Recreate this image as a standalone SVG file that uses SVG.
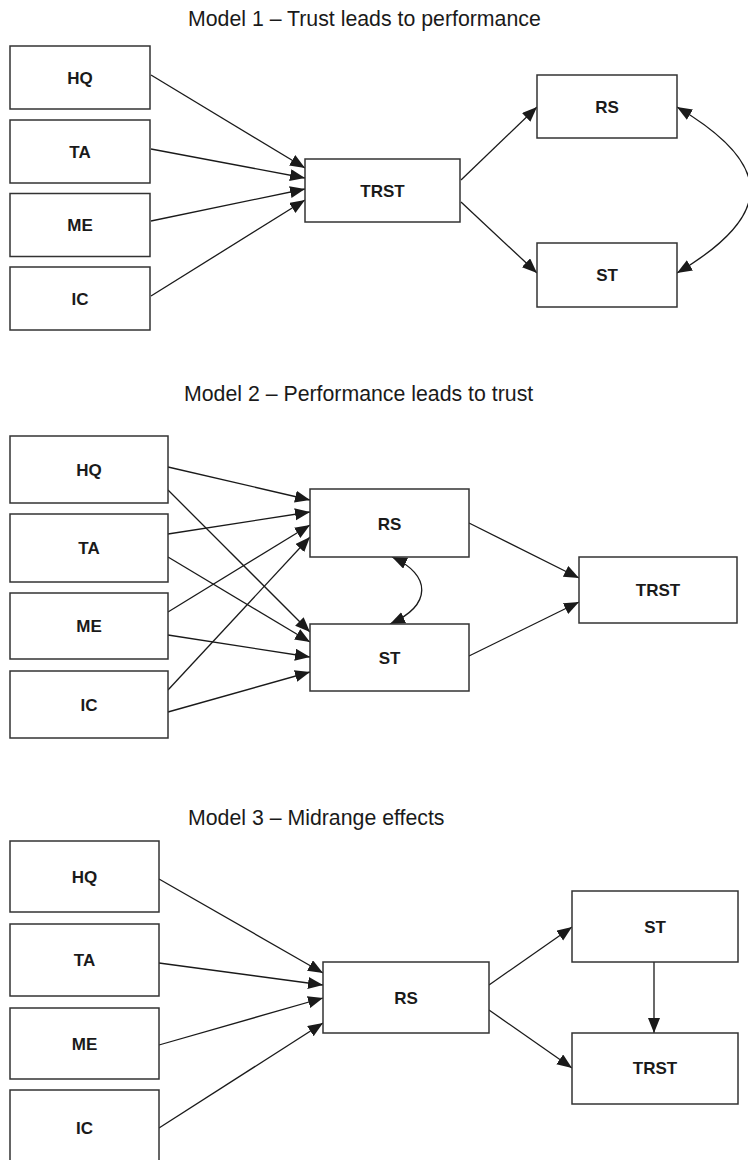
<svg xmlns="http://www.w3.org/2000/svg" width="748" height="1160" viewBox="0 0 748 1160">
<style>
.box{fill:#fff;stroke:#333;stroke-width:1.5}
.lbl{font-family:"Liberation Sans",Arial,sans-serif;font-weight:bold;font-size:17px;fill:#1a1a1a;text-anchor:middle}
.title{font-family:"Liberation Sans",Arial,sans-serif;font-size:21.3px;fill:#1a1a1a}
.c{fill:none;stroke:#1a1a1a;stroke-width:1.3}
</style>
<defs>
<marker id="ah" markerUnits="userSpaceOnUse" markerWidth="16" markerHeight="13" refX="15" refY="6" orient="auto-start-reverse">
<path d="M0,0 L15,6 L0,12 z" fill="#1a1a1a"/>
</marker>
</defs>
<rect width="748" height="1160" fill="#fff"/>

<text class="title" x="188" y="26">Model 1 – Trust leads to performance</text>
<text class="title" x="184" y="401">Model 2 – Performance leads to trust</text>
<text class="title" x="188" y="825">Model 3 – Midrange effects</text>

<g id="connectors">
<!-- Model 1 -->
<line class="c" x1="151" y1="75" x2="305" y2="168" marker-end="url(#ah)"/>
<line class="c" x1="151" y1="149" x2="305" y2="178" marker-end="url(#ah)"/>
<line class="c" x1="151" y1="221" x2="305" y2="189" marker-end="url(#ah)"/>
<line class="c" x1="151" y1="296" x2="305" y2="200" marker-end="url(#ah)"/>
<line class="c" x1="461" y1="180" x2="537" y2="107" marker-end="url(#ah)"/>
<line class="c" x1="461" y1="202" x2="537" y2="273" marker-end="url(#ah)"/>
<path class="c" d="M677,107 C775,165 775,215 677,273" marker-start="url(#ah)" marker-end="url(#ah)"/>
<!-- Model 2 -->
<line class="c" x1="168" y1="467" x2="310" y2="500" marker-end="url(#ah)"/>
<line class="c" x1="168" y1="490" x2="310" y2="632" marker-end="url(#ah)"/>
<line class="c" x1="168" y1="534" x2="310" y2="512" marker-end="url(#ah)"/>
<line class="c" x1="168" y1="557" x2="310" y2="642" marker-end="url(#ah)"/>
<line class="c" x1="168" y1="612" x2="310" y2="525" marker-end="url(#ah)"/>
<line class="c" x1="168" y1="635" x2="310" y2="657" marker-end="url(#ah)"/>
<line class="c" x1="168" y1="690" x2="310" y2="537" marker-end="url(#ah)"/>
<line class="c" x1="168" y1="712" x2="310" y2="672" marker-end="url(#ah)"/>
<line class="c" x1="469" y1="523" x2="579" y2="578" marker-end="url(#ah)"/>
<line class="c" x1="469" y1="656" x2="579" y2="602" marker-end="url(#ah)"/>
<path class="c" d="M392,557 C432,575 432,605 390,624" marker-start="url(#ah)" marker-end="url(#ah)"/>
<!-- Model 3 -->
<line class="c" x1="159" y1="879" x2="323" y2="973" marker-end="url(#ah)"/>
<line class="c" x1="159" y1="963" x2="323" y2="985" marker-end="url(#ah)"/>
<line class="c" x1="159" y1="1045" x2="323" y2="998" marker-end="url(#ah)"/>
<line class="c" x1="159" y1="1128" x2="323" y2="1023" marker-end="url(#ah)"/>
<line class="c" x1="489" y1="985" x2="572" y2="927" marker-end="url(#ah)"/>
<line class="c" x1="489" y1="1010" x2="572" y2="1068" marker-end="url(#ah)"/>
<line class="c" x1="654" y1="962" x2="654" y2="1033" marker-end="url(#ah)"/>
</g>

<!-- Model 1 nodes -->
<g id="m1-hq"><rect class="box" x="10" y="46" width="140" height="63"/><text class="lbl" x="80" y="83.5">HQ</text></g>
<g id="m1-ta"><rect class="box" x="10" y="120" width="140" height="63"/><text class="lbl" x="80" y="157.5">TA</text></g>
<g id="m1-me"><rect class="box" x="10" y="193.5" width="140" height="63"/><text class="lbl" x="80" y="231">ME</text></g>
<g id="m1-ic"><rect class="box" x="10" y="267" width="140" height="63"/><text class="lbl" x="80" y="304.5">IC</text></g>
<g id="m1-trst"><rect class="box" x="305" y="159" width="155" height="63"/><text class="lbl" x="382.5" y="197">TRST</text></g>
<g id="m1-rs"><rect class="box" x="537" y="75" width="140" height="63"/><text class="lbl" x="607" y="112.5">RS</text></g>
<g id="m1-st"><rect class="box" x="537" y="243" width="140" height="64"/><text class="lbl" x="607" y="281">ST</text></g>

<!-- Model 2 nodes -->
<g id="m2-hq"><rect class="box" x="10" y="436" width="158" height="67"/><text class="lbl" x="89" y="476">HQ</text></g>
<g id="m2-ta"><rect class="box" x="10" y="514" width="158" height="68"/><text class="lbl" x="89" y="554">TA</text></g>
<g id="m2-me"><rect class="box" x="10" y="593" width="158" height="66"/><text class="lbl" x="89" y="632">ME</text></g>
<g id="m2-ic"><rect class="box" x="10" y="671" width="158" height="67"/><text class="lbl" x="89" y="711">IC</text></g>
<g id="m2-rs"><rect class="box" x="310" y="489" width="159" height="68"/><text class="lbl" x="389.5" y="530">RS</text></g>
<g id="m2-st"><rect class="box" x="310" y="624" width="159" height="67"/><text class="lbl" x="389.5" y="664">ST</text></g>
<g id="m2-trst"><rect class="box" x="579" y="557" width="158" height="66"/><text class="lbl" x="658" y="596">TRST</text></g>

<!-- Model 3 nodes -->
<g id="m3-hq"><rect class="box" x="10" y="841" width="149" height="71"/><text class="lbl" x="84.5" y="883">HQ</text></g>
<g id="m3-ta"><rect class="box" x="10" y="924" width="149" height="72"/><text class="lbl" x="84.5" y="966">TA</text></g>
<g id="m3-me"><rect class="box" x="10" y="1008" width="149" height="71"/><text class="lbl" x="84.5" y="1050">ME</text></g>
<g id="m3-ic"><rect class="box" x="10" y="1090" width="149" height="72"/><text class="lbl" x="84.5" y="1134">IC</text></g>
<g id="m3-rs"><rect class="box" x="323" y="962" width="166" height="71"/><text class="lbl" x="406" y="1004">RS</text></g>
<g id="m3-st"><rect class="box" x="572" y="891" width="166" height="71"/><text class="lbl" x="655" y="933">ST</text></g>
<g id="m3-trst"><rect class="box" x="572" y="1033" width="166" height="71"/><text class="lbl" x="655" y="1074">TRST</text></g>
</svg>
